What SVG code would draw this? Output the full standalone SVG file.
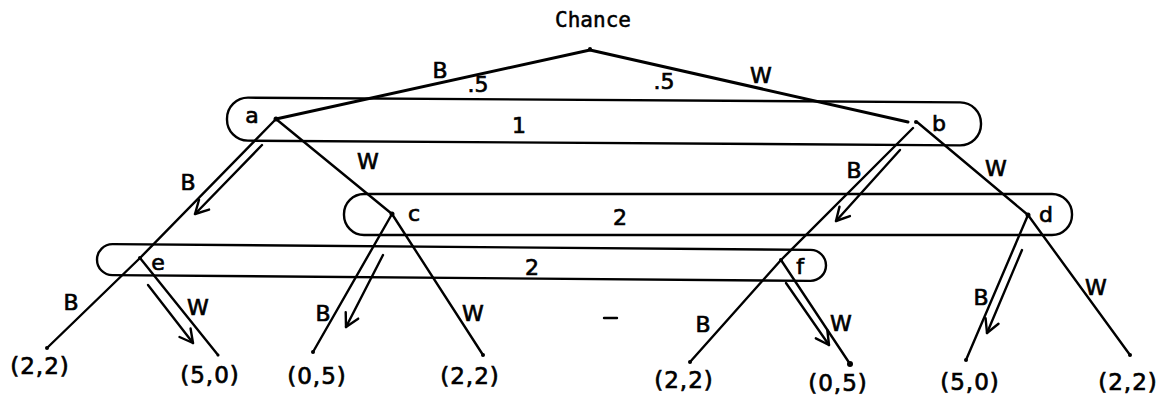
<svg xmlns="http://www.w3.org/2000/svg" width="1173" height="400" viewBox="0 0 1173 400">
<style>
.e{stroke:#000;stroke-width:2.4;fill:none;stroke-linecap:round}
.t{stroke:#000;stroke-width:3;fill:none;stroke-linecap:round}
.ar{stroke:#000;stroke-width:2.4;fill:none;stroke-linecap:round;marker-end:url(#head)}
.box{stroke:#000;stroke-width:2.4;fill:none}
.h{font-family:"DejaVu Sans","Liberation Sans",sans-serif;font-size:22px;fill:#000;stroke:#000;stroke-width:0.7;text-anchor:middle;dominant-baseline:central}
.lf{font-family:"DejaVu Sans","Liberation Sans",sans-serif;font-size:23px;fill:#000;stroke:#000;stroke-width:0.7;text-anchor:middle;dominant-baseline:central;letter-spacing:1px}
.dot{fill:#000}
</style>
<defs>
<marker id="head" viewBox="-15 -9 17 18" refX="0" refY="0" markerWidth="17" markerHeight="18" markerUnits="userSpaceOnUse" orient="auto">
<path d="M-13,-7 L0,0 L-13,7" stroke="#000" stroke-width="2.4" fill="none" stroke-linecap="round" stroke-linejoin="round"/>
</marker>
</defs>
<rect width="1173" height="400" fill="#fff"/>
<text x="593" y="20" font-family="DejaVu Sans Mono,Liberation Mono,monospace" font-size="21" stroke="#000" stroke-width="0.5" text-anchor="middle" dominant-baseline="central" fill="#000">Chance</text>

<g id="info-sets">
<rect id="set1" class="box" x="227" y="100" width="754" height="43" rx="21" transform="rotate(0.38 604 122)"/>
<rect id="set2" class="box" x="344" y="194" width="728" height="41" rx="20"/>
<rect id="set3" class="box" x="97" y="247" width="729" height="31" rx="15.5" transform="rotate(0.47 461 263)"/>
<text class="h" x="519" y="125">1</text>
<text class="h" x="620" y="217">2</text>
<text class="h" x="532" y="267">2</text>
</g>

<g id="connectors">
<line class="t" x1="590" y1="50" x2="276" y2="119"/>
<line class="t" x1="590" y1="50" x2="908" y2="122"/>
<line class="e" x1="276" y1="119" x2="140" y2="258"/>
<line class="e" x1="276" y1="119" x2="392" y2="214"/>
<line class="e" x1="913" y1="128" x2="781" y2="260"/>
<line class="e" x1="917" y1="122" x2="1028" y2="215"/>
<line class="e" x1="140" y1="258" x2="47" y2="348"/>
<line class="e" x1="140" y1="258" x2="218" y2="355"/>
<line class="e" x1="392" y1="214" x2="313" y2="352"/>
<line class="e" x1="392" y1="214" x2="483" y2="355"/>
<line class="e" x1="781" y1="260" x2="690" y2="362"/>
<line class="e" x1="781" y1="260" x2="850" y2="364"/>
<line class="e" x1="1028" y1="215" x2="966" y2="360"/>
<line class="e" x1="1028" y1="215" x2="1130" y2="355"/>
<line class="ar" x1="262" y1="145" x2="195" y2="214"/>
<line class="ar" x1="383" y1="255" x2="346" y2="327"/>
<line class="ar" x1="148" y1="285" x2="193" y2="343"/>
<line class="ar" x1="900" y1="150" x2="836" y2="221"/>
<line class="ar" x1="786" y1="283" x2="829" y2="345"/>
<line class="ar" x1="1022" y1="250" x2="987" y2="333"/>
<line class="e" x1="604" y1="318" x2="617" y2="318"/>
<text class="h" x="440" y="70">B</text>
<text class="h" x="478" y="84">.5</text>
<text class="h" x="664" y="81">.5</text>
<text class="h" x="761" y="75">W</text>
<text class="h" x="188" y="182">B</text>
<text class="h" x="368" y="161">W</text>
<text class="h" x="854" y="170">B</text>
<text class="h" x="996" y="168">W</text>
<text class="h" x="71" y="302">B</text>
<text class="h" x="198" y="307">W</text>
<text class="h" x="323" y="313">B</text>
<text class="h" x="473" y="313">W</text>
<text class="h" x="703" y="324">B</text>
<text class="h" x="841" y="323">W</text>
<text class="h" x="981" y="297">B</text>
<text class="h" x="1096" y="287">W</text>
</g>

<g id="chance"><circle class="dot" cx="590" cy="49" r="2"/></g>
<g id="node-a"><circle class="dot" cx="276" cy="119" r="2.5"/><text class="h" x="252" y="115">a</text></g>
<g id="node-b"><circle class="dot" cx="916" cy="122" r="2"/><text class="h" x="939" y="123">b</text></g>
<g id="node-c"><circle class="dot" cx="392" cy="214" r="2.5"/><text class="h" x="414" y="213">c</text></g>
<g id="node-d"><circle class="dot" cx="1028" cy="215" r="2.5"/><text class="h" x="1046" y="214">d</text></g>
<g id="node-e"><circle class="dot" cx="140" cy="258" r="2"/><text class="h" x="158" y="262">e</text></g>
<g id="node-f"><circle class="dot" cx="781" cy="260" r="2"/><text class="h" x="800" y="266">f</text></g>

<g id="leaf1"><circle class="dot" cx="47" cy="348" r="2"/><text class="lf" x="40" y="366">(2,2)</text></g>
<g id="leaf2"><circle class="dot" cx="218" cy="355" r="1.5"/><text class="lf" x="210" y="375">(5,0)</text></g>
<g id="leaf3"><circle class="dot" cx="313" cy="352" r="2"/><text class="lf" x="317" y="376">(0,5)</text></g>
<g id="leaf4"><circle class="dot" cx="483" cy="355" r="2"/><text class="lf" x="470" y="376">(2,2)</text></g>
<g id="leaf5"><circle class="dot" cx="690" cy="362" r="2"/><text class="lf" x="684" y="380">(2,2)</text></g>
<g id="leaf6"><circle class="dot" cx="850" cy="364" r="3"/><text class="lf" x="838" y="383">(0,5)</text></g>
<g id="leaf7"><circle class="dot" cx="966" cy="360" r="2"/><text class="lf" x="970" y="382">(5,0)</text></g>
<g id="leaf8"><circle class="dot" cx="1130" cy="355" r="2"/><text class="lf" x="1128" y="382">(2,2)</text></g>
</svg>
